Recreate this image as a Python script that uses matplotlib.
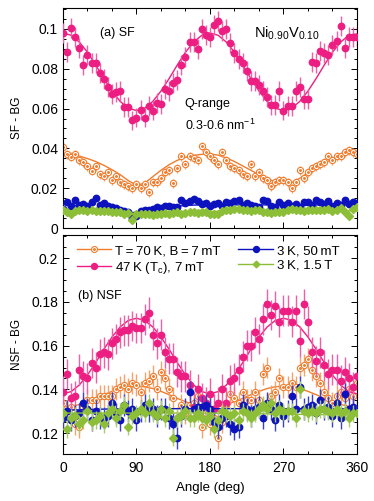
import matplotlib
matplotlib.use('Agg')
import matplotlib.pyplot as plt
from matplotlib.lines import Line2D
from matplotlib.ticker import MultipleLocator, FormatStrFormatter
import numpy as np

plt.rcParams['font.family'] = ['Liberation Sans', 'DejaVu Sans']
plt.rcParams['mathtext.fontset'] = 'custom'
plt.rcParams['mathtext.rm'] = 'Liberation Sans'
plt.rcParams['font.size'] = 9

# angles of the measured points and of the fit curves (deg)
angles = np.arange(0, 361, 5)
fit_angles = np.arange(0, 361, 10)

# ---- (a) SF - BG ----
sf_47K = [0.0978, 0.0886, 0.1003, 0.0960, 0.0903, 0.0820, 0.0870, 0.0830, 0.0828, 0.0780,
          0.0750, 0.0710, 0.0672, 0.0685, 0.0690, 0.0610, 0.0610, 0.0540, 0.0555, 0.0592,
          0.0555, 0.0612, 0.0590, 0.0630, 0.0625, 0.0700, 0.0690, 0.0730, 0.0745, 0.0820,
          0.0860, 0.0935, 0.0935, 0.0900, 0.1000, 0.0970, 0.0960, 0.1020, 0.1040, 0.0990,
          0.1000, 0.0930, 0.0880, 0.0850, 0.0830, 0.0790, 0.0740, 0.0740, 0.0720, 0.0690,
          0.0660, 0.0620, 0.0620, 0.0690, 0.0590, 0.0615, 0.0615, 0.0690, 0.0710, 0.0650,
          0.0650, 0.0835, 0.0830, 0.0890, 0.0880, 0.0870, 0.0920, 0.0940, 0.1015, 0.0905,
          0.0960, 0.0960, 0.0960]
sf_70K = [0.0409, 0.0370, 0.0358, 0.0370, 0.0340, 0.0330, 0.0310, 0.0288, 0.0310, 0.0270,
          0.0260, 0.0280, 0.0240, 0.0260, 0.0230, 0.0220, 0.0210, 0.0200, 0.0220, 0.0200,
          0.0220, 0.0180, 0.0230, 0.0230, 0.0250, 0.0280, 0.0290, 0.0225, 0.0300, 0.0360,
          0.0320, 0.0360, 0.0350, 0.0340, 0.0410, 0.0380, 0.0360, 0.0340, 0.0320, 0.0380,
          0.0340, 0.0310, 0.0300, 0.0290, 0.0270, 0.0260, 0.0320, 0.0260, 0.0280, 0.0250,
          0.0240, 0.0210, 0.0230, 0.0240, 0.0240, 0.0230, 0.0200, 0.0230, 0.0290, 0.0250,
          0.0280, 0.0300, 0.0310, 0.0320, 0.0330, 0.0360, 0.0340, 0.0360, 0.0360, 0.0380,
          0.0390, 0.0380, 0.0370]
sf_3K_50mT = [0.0094, 0.0133, 0.0112, 0.0140, 0.0118, 0.0120, 0.0113, 0.0131, 0.0150, 0.0116,
              0.0124, 0.0110, 0.0107, 0.0098, 0.0090, 0.0085, 0.0078, 0.0052, 0.0061, 0.0085,
              0.0092, 0.0089, 0.0095, 0.0103, 0.0100, 0.0110, 0.0112, 0.0108, 0.0105, 0.0140,
              0.0125, 0.0138, 0.0145, 0.0138, 0.0122, 0.0128, 0.0110, 0.0122, 0.0128, 0.0112,
              0.0130, 0.0125, 0.0138, 0.0142, 0.0118, 0.0128, 0.0115, 0.0110, 0.0108, 0.0142,
              0.0138, 0.0110, 0.0105, 0.0130, 0.0118, 0.0128, 0.0110, 0.0122, 0.0108, 0.0133,
              0.0130, 0.0115, 0.0140, 0.0132, 0.0120, 0.0135, 0.0110, 0.0128, 0.0115, 0.0142,
              0.0120, 0.0132, 0.0125]
sf_3K_15T = [0.0088, 0.0080, 0.0072, 0.0085, 0.0092, 0.0088, 0.0085, 0.0090, 0.0087, 0.0083,
             0.0087, 0.0085, 0.0080, 0.0082, 0.0078, 0.0070, 0.0075, 0.0042, 0.0068, 0.0070,
             0.0068, 0.0072, 0.0065, 0.0070, 0.0072, 0.0075, 0.0068, 0.0073, 0.0078, 0.0072,
             0.0075, 0.0080, 0.0078, 0.0075, 0.0080, 0.0078, 0.0072, 0.0068, 0.0070, 0.0085,
             0.0092, 0.0090, 0.0095, 0.0095, 0.0090, 0.0092, 0.0085, 0.0090, 0.0088, 0.0080,
             0.0078, 0.0075, 0.0080, 0.0078, 0.0082, 0.0090, 0.0095, 0.0090, 0.0092, 0.0085,
             0.0088, 0.0092, 0.0090, 0.0088, 0.0092, 0.0095, 0.0085, 0.0090, 0.0100, 0.0082,
             0.0058, 0.0095, 0.0105]

sf_err = [0.005, 0.0022, 0.0012, 0.0010]   # 47K, 70K, 3K 50mT, 3K 1.5T

sf_fit_47K = [0.0980, 0.0968, 0.0934, 0.0883, 0.0819, 0.0751, 0.0688, 0.0636, 0.0602, 0.0590,
              0.0602, 0.0636, 0.0688, 0.0751, 0.0819, 0.0883, 0.0934, 0.0968, 0.0980, 0.0968,
              0.0934, 0.0883, 0.0819, 0.0751, 0.0688, 0.0636, 0.0602, 0.0590, 0.0602, 0.0636,
              0.0688, 0.0751, 0.0819, 0.0883, 0.0934, 0.0968, 0.0975]
sf_fit_70K = [0.0370, 0.0368, 0.0361, 0.0349, 0.0334, 0.0315, 0.0293, 0.0268, 0.0238, 0.0215,
              0.0225, 0.0258, 0.0290, 0.0318, 0.0340, 0.0355, 0.0365, 0.0370, 0.0372, 0.0366,
              0.0352, 0.0334, 0.0312, 0.0290, 0.0268, 0.0248, 0.0232, 0.0225, 0.0228, 0.0250,
              0.0278, 0.0302, 0.0325, 0.0345, 0.0362, 0.0372, 0.0378]
sf_fit_3K_50mT = [0.0118, 0.0115, 0.0110, 0.0103, 0.0096, 0.0089, 0.0084, 0.0080, 0.0078, 0.0078,
                  0.0081, 0.0088, 0.0096, 0.0104, 0.0110, 0.0113, 0.0115, 0.0116, 0.0116, 0.0116,
                  0.0116, 0.0116, 0.0116, 0.0116, 0.0116, 0.0116, 0.0116, 0.0116, 0.0116, 0.0116,
                  0.0116, 0.0116, 0.0116, 0.0116, 0.0116, 0.0116, 0.0116]
sf_fit_3K_15T = [0.0086, 0.0086, 0.0085, 0.0083, 0.0081, 0.0079, 0.0077, 0.0075, 0.0073, 0.0072,
                 0.0072, 0.0073, 0.0074, 0.0076, 0.0078, 0.0080, 0.0081, 0.0082, 0.0083, 0.0084,
                 0.0085, 0.0085, 0.0085, 0.0085, 0.0085, 0.0085, 0.0085, 0.0085, 0.0085, 0.0086,
                 0.0086, 0.0086, 0.0086, 0.0086, 0.0086, 0.0086, 0.0086]

# ---- (b) NSF - BG ----
nsf_47K = [0.139, 0.147, 0.136, 0.137, 0.149, 0.146, 0.145, 0.152, 0.150, 0.156,
           0.157, 0.156, 0.161, 0.163, 0.166, 0.167, 0.167, 0.169, 0.168, 0.168,
           0.172, 0.175, 0.165, 0.161, 0.165, 0.157, 0.154, 0.154, 0.148, 0.146,
           0.146, 0.142, 0.132, 0.140, 0.136, 0.134, 0.138, 0.131, 0.134, 0.140,
           0.134, 0.144, 0.145, 0.149, 0.155, 0.160, 0.160, 0.166, 0.163, 0.172,
           0.179, 0.174, 0.178, 0.171, 0.176, 0.176, 0.171, 0.176, 0.162, 0.179,
           0.171, 0.157, 0.153, 0.157, 0.151, 0.147, 0.149, 0.149, 0.144, 0.148,
           0.145, 0.141, 0.146]
nsf_70K = [0.134, 0.130, 0.132, 0.124, 0.123, 0.132, 0.135, 0.135, 0.135, 0.137,
           0.137, 0.137, 0.137, 0.140, 0.141, 0.142, 0.140, 0.143, 0.142, 0.139,
           0.143, 0.144, 0.146, 0.140, 0.148, 0.145, 0.140, 0.136, 0.127, 0.133,
           0.129, 0.133, 0.134, 0.137, 0.123, 0.129, 0.124, 0.127, 0.118, 0.125,
           0.133, 0.138, 0.136, 0.134, 0.139, 0.135, 0.135, 0.139, 0.135, 0.147,
           0.150, 0.137, 0.139, 0.145, 0.141, 0.141, 0.143, 0.141, 0.150, 0.151,
           0.154, 0.149, 0.146, 0.143, 0.139, 0.136, 0.134, 0.137, 0.139, 0.136,
           0.140, 0.137, 0.143]
nsf_3K_50mT = [0.127, 0.130, 0.126, 0.128, 0.129, 0.134, 0.131, 0.126, 0.130, 0.127,
               0.127, 0.128, 0.134, 0.129, 0.126, 0.133, 0.130, 0.131, 0.126, 0.130,
               0.133, 0.130, 0.131, 0.128, 0.131, 0.131, 0.127, 0.124, 0.118, 0.128,
               0.131, 0.139, 0.131, 0.132, 0.132, 0.133, 0.131, 0.125, 0.123, 0.127,
               0.128, 0.124, 0.122, 0.123, 0.133, 0.131, 0.128, 0.131, 0.132, 0.127,
               0.134, 0.131, 0.126, 0.133, 0.128, 0.130, 0.137, 0.131, 0.141, 0.131,
               0.132, 0.133, 0.129, 0.135, 0.131, 0.132, 0.128, 0.134, 0.127, 0.138,
               0.131, 0.132, 0.131]
nsf_3K_15T = [0.129, 0.122, 0.127, 0.128, 0.124, 0.126, 0.130, 0.125, 0.126, 0.128,
              0.124, 0.129, 0.131, 0.127, 0.130, 0.133, 0.123, 0.128, 0.129, 0.131,
              0.129, 0.134, 0.129, 0.128, 0.131, 0.127, 0.130, 0.118, 0.127, 0.128,
              0.130, 0.127, 0.127, 0.129, 0.127, 0.126, 0.128, 0.122, 0.126, 0.130,
              0.129, 0.128, 0.129, 0.126, 0.130, 0.129, 0.127, 0.129, 0.131, 0.133,
              0.131, 0.134, 0.129, 0.131, 0.130, 0.130, 0.130, 0.127, 0.140, 0.130,
              0.129, 0.130, 0.129, 0.131, 0.131, 0.130, 0.129, 0.131, 0.129, 0.130,
              0.127, 0.129, 0.129]

nsf_err = [0.007, 0.005, 0.005, 0.004]

nsf_fit_47K = [0.1380, 0.1390, 0.1420, 0.1466, 0.1522, 0.1583, 0.1639, 0.1685, 0.1715, 0.1725,
               0.1715, 0.1685, 0.1639, 0.1583, 0.1522, 0.1466, 0.1420, 0.1390, 0.1380, 0.1390,
               0.1420, 0.1466, 0.1522, 0.1583, 0.1639, 0.1685, 0.1715, 0.1725, 0.1715, 0.1685,
               0.1639, 0.1583, 0.1522, 0.1466, 0.1420, 0.1390, 0.1380]
nsf_fit_70K = [0.1320, 0.1323, 0.1331, 0.1344, 0.1359, 0.1376, 0.1391, 0.1404, 0.1412, 0.1415,
               0.1412, 0.1404, 0.1391, 0.1376, 0.1359, 0.1344, 0.1331, 0.1323, 0.1320, 0.1323,
               0.1331, 0.1344, 0.1359, 0.1376, 0.1391, 0.1404, 0.1412, 0.1415, 0.1412, 0.1404,
               0.1391, 0.1376, 0.1359, 0.1344, 0.1331, 0.1323, 0.1320]
nsf_fit_3K_50mT = [0.1305, 0.1306, 0.1307, 0.1308, 0.1309, 0.1310, 0.1311, 0.1311, 0.1312, 0.1312,
                   0.1312, 0.1312, 0.1312, 0.1312, 0.1312, 0.1312, 0.1312, 0.1312, 0.1312, 0.1312,
                   0.1312, 0.1312, 0.1312, 0.1312, 0.1312, 0.1312, 0.1312, 0.1312, 0.1312, 0.1312,
                   0.1312, 0.1312, 0.1312, 0.1312, 0.1312, 0.1312, 0.1312]
nsf_fit_3K_15T = [0.1292, 0.1292, 0.1292, 0.1292, 0.1292, 0.1292, 0.1292, 0.1292, 0.1292, 0.1292,
                  0.1292, 0.1292, 0.1292, 0.1292, 0.1292, 0.1292, 0.1292, 0.1292, 0.1292, 0.1291,
                  0.1291, 0.1290, 0.1290, 0.1289, 0.1289, 0.1288, 0.1288, 0.1287, 0.1287, 0.1286,
                  0.1286, 0.1285, 0.1285, 0.1284, 0.1284, 0.1283, 0.1283]

labels = ['T\u2009=\u200970\u2009K, B\u2009=\u20097\u2009mT',
          '47\u2009K (T$\\mathregular{_c}$), 7\u2009mT',
          '3\u2009K, 50\u2009mT', '3\u2009K, 1.5\u2009T']
colors = ['#F07C2C', '#EC1E82', '#0C12BE', '#8DBE38']
ecolors = ['#F5A26B', '#F060A8', '#3A40D0', '#A8CE6A']

fig = plt.figure(figsize=(3.74, 5.01), dpi=100)
ax1 = fig.add_axes([0.1684, 0.5449, 0.7861, 0.4391])
ax2 = fig.add_axes([0.1684, 0.0938, 0.7861, 0.4371])


def draw(ax, pts, errs, fits):
    # order: 70K (orange), 47K (pink), 3K 50mT (blue), 3K 1.5T (green)
    for i, (y, e, f) in enumerate(zip(pts, errs, fits)):
        ax.plot(fit_angles, f, color=colors[i], lw=1.0, zorder=2 + i)
        if i == 0:
            ax.errorbar(angles, y, yerr=e, fmt='o', ms=4.5, mfc='white', mec=colors[i],
                        mew=0.8, ecolor=ecolors[i], elinewidth=1.0, capsize=0, zorder=2 + i)
            ax.plot(angles, y, 'o', ms=1.1, color=colors[i], zorder=2.5 + i)
        elif i == 3:
            ax.errorbar(angles, y, yerr=e, fmt='D', ms=3.6, color=colors[i],
                        ecolor=ecolors[i], elinewidth=1.0, capsize=0, zorder=2 + i)
        else:
            ax.errorbar(angles, y, yerr=e, fmt='o', ms=4.6, color=colors[i],
                        ecolor=ecolors[i], elinewidth=1.0, capsize=0, zorder=2 + i)


draw(ax1, [sf_70K, sf_47K, sf_3K_50mT, sf_3K_15T],
     [sf_err[1], sf_err[0], sf_err[2], sf_err[3]],
     [sf_fit_70K, sf_fit_47K, sf_fit_3K_50mT, sf_fit_3K_15T])
draw(ax2, [nsf_70K, nsf_47K, nsf_3K_50mT, nsf_3K_15T],
     [nsf_err[1], nsf_err[0], nsf_err[2], nsf_err[3]],
     [nsf_fit_70K, nsf_fit_47K, nsf_fit_3K_50mT, nsf_fit_3K_15T])

ax1.set_ylim(0, 0.1105)
ax2.set_ylim(0.1105, 0.2105)
for ax in (ax1, ax2):
    ax.set_xlim(0, 360)
    ax.xaxis.set_major_locator(MultipleLocator(90))
    ax.xaxis.set_minor_locator(MultipleLocator(30))
    ax.yaxis.set_major_locator(MultipleLocator(0.02))
    ax.yaxis.set_minor_locator(MultipleLocator(0.005))
    ax.yaxis.set_major_formatter(FormatStrFormatter('%g'))
    ax.tick_params(which='both', direction='in', top=True, right=True, labelsize=10)
    ax.tick_params(which='major', length=4, width=0.7)
    ax.tick_params(which='minor', length=2.5, width=0.7)
    ax.tick_params(axis='x', pad=5)
    for s in ax.spines.values():
        s.set_linewidth(0.8)
ax1.tick_params(labelbottom=False)

ax1.set_ylabel('SF - BG', fontsize=8.5, labelpad=6)
ax2.set_ylabel('NSF - BG', fontsize=8.5, labelpad=6)
ax2.set_xlabel('Angle (deg)', fontsize=9.5, labelpad=5)

ax1.text(45, 0.098, '(a) SF', fontsize=9, va='center')
ax1.text(234, 0.098, r'Ni$\mathregular{_{0.90}}$V$\mathregular{_{0.10}}$', fontsize=10.5, va='center')
ax1.text(149, 0.0625, 'Q-range', fontsize=9, va='center')
ax1.text(149, 0.0515, '0.3-0.6\u2009nm$\\mathregular{^{-1}}$', fontsize=9, va='center')
ax2.text(18, 0.1825, '(b) NSF', fontsize=9, va='center')

handles = [
    (Line2D([], [], color=colors[0], lw=1.0, marker='o', ms=4.3, mfc='white', mec=colors[0], mew=0.8),
     Line2D([], [], ls='none', marker='o', ms=1.1, color=colors[0])),
    Line2D([], [], color=colors[1], lw=1.0, marker='o', ms=4.3),
    Line2D([], [], color=colors[2], lw=1.0, marker='o', ms=4.3),
    Line2D([], [], color=colors[3], lw=1.0, marker='D', ms=3.4),
]
ax2.legend(handles, labels, ncol=2, loc='upper left', bbox_to_anchor=(0.0476, 0.955),
           frameon=False, fontsize=9.5, handlelength=2.6, handletextpad=0.3,
           columnspacing=1.35, labelspacing=0.2, borderaxespad=0, borderpad=0)

fig.savefig('out.png', dpi=100)
